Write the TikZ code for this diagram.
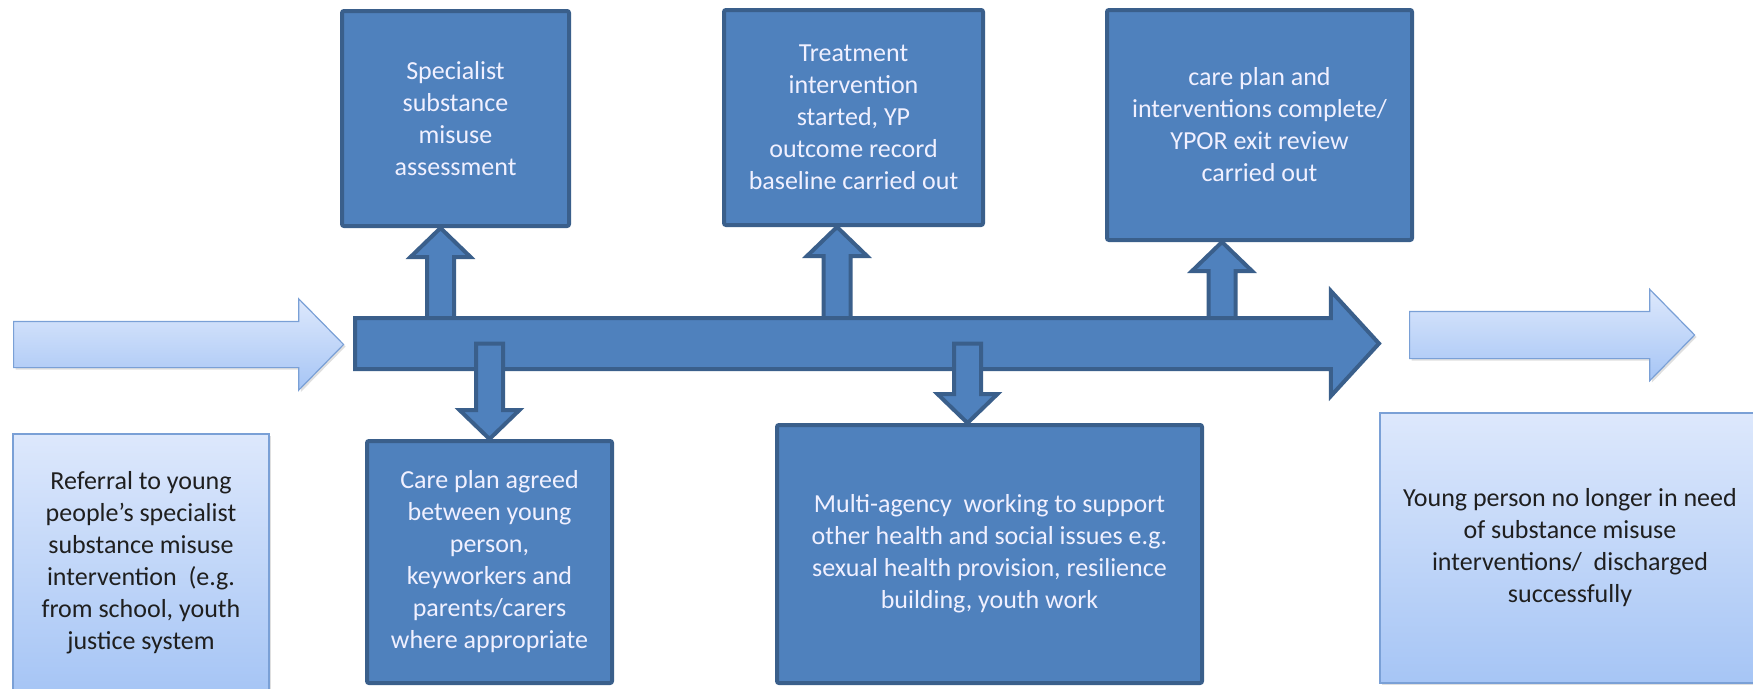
\documentclass[tikz,border=0pt]{standalone}
\usepackage{fontspec}
\setmainfont{Carlito}
\usepackage{tikz}
\usetikzlibrary{%
  calc,%
  shapes.arrows,%
  shadows%
}
\tikzset{>=latex}

\definecolor{boxblue}{RGB}{79,129,189}
\definecolor{boxedge}{RGB}{58,95,139}
\definecolor{paletop}{RGB}{221,232,252}
\definecolor{palebot}{RGB}{166,197,245}
\definecolor{paleedge}{RGB}{122,160,214}

\tikzset{
  darkbox/.style={draw=boxedge,line width=4pt,fill=boxblue,rounded corners=2pt,
    text=white!94!blue,align=center,inner sep=0pt,
    font=\fontsize{26}{32}\selectfont},
  palebox/.style={draw=paleedge,line width=1.2pt,top color=paletop,bottom color=palebot,
    text=black!88,align=center,inner sep=0pt,
    drop shadow={shadow xshift=2pt,shadow yshift=-2pt,opacity=0.25},
    font=\fontsize{26}{32}\selectfont},
  palearrow/.style={single arrow,draw=paleedge,line width=1.2pt,anchor=tail,
    top color=paletop,bottom color=palebot,inner xsep=0pt,
    drop shadow={shadow xshift=2pt,shadow yshift=-2pt,opacity=0.25}},
  blockarr/.style={draw=boxedge,line width=4pt,fill=boxblue,line join=miter}
}

% vertical block arrows: #1 gives the tail height, #2 the tip
\newcommand{\upblock}[2]{%
  \draw[blockarr] let \p1=(#1), \p2=(#2) in
    (\x2-13.5pt,\y1) -- (\x2-13.5pt,\y2-29pt) -- (\x2-30pt,\y2-29pt) -- (\x2,\y2)
    -- (\x2+30pt,\y2-29pt) -- (\x2+13.5pt,\y2-29pt) -- (\x2+13.5pt,\y1) -- cycle;}
\newcommand{\downblock}[2]{%
  \draw[blockarr] let \p1=(#1), \p2=(#2) in
    (\x2-13.5pt,\y1) -- (\x2-13.5pt,\y2+29pt) -- (\x2-30pt,\y2+29pt) -- (\x2,\y2)
    -- (\x2+30pt,\y2+29pt) -- (\x2+13.5pt,\y2+29pt) -- (\x2+13.5pt,\y1) -- cycle;}

\begin{document}
\begin{tikzpicture}[x=1pt,y=-1pt]
  \useasboundingbox (0,0) rectangle (1753,688);

  % boxes above the track
  \node[darkbox,minimum width=227,minimum height=215] (assess) at (455.5,118.5)
    {Specialist\\substance\\misuse\\assessment};
  \node[darkbox,minimum width=259,minimum height=215] (treat) at (853.5,117.5)
    {Treatment\\intervention\\started, YP\\outcome record\\baseline carried out};
  \node[darkbox,minimum width=305,minimum height=230] (exit) at (1259.5,125)
    {care plan and\\interventions complete/\\YPOR exit review\\carried out};

  % boxes below the track
  \node[darkbox,minimum width=245,minimum height=242] (agreed) at (489.5,562)
    {Care plan agreed\\between young\\person,\\keyworkers and\\parents/carers\\where appropriate};
  \node[darkbox,minimum width=425,minimum height=258] (multi) at (989.5,554)
    {Multi-agency \ working to support\\other health and social issues e.g.\\sexual health provision, resilience\\building, youth work};

  \node[palebox,minimum width=256,minimum height=258] (referral) at (141,563)
    {Referral to young\\people's specialist\\substance misuse\\intervention \ (e.g.\\from school, youth\\justice system};
  \node[palebox,minimum width=380,minimum height=270] (discharge) at (1570,548)
    {Young person no longer in need\\of substance misuse\\interventions/ \ discharged\\successfully};

  % entry and exit arrows
  \node[palearrow,minimum height=330,inner ysep=22.5pt,single arrow head extend=22.5pt,
    single arrow tip angle=91] (inarr) at (13,344.5) {};
  \node[palearrow,minimum height=285,inner ysep=23pt,single arrow head extend=22pt,
    single arrow tip angle=91] (outarr) at (1409,335) {};

  \coordinate (mid) at (353,343.5);
  \upblock{mid}{[xshift=-15pt]assess.south}
  \upblock{mid}{[xshift=-16.5pt]treat.south}
  \upblock{mid}{[xshift=-37.5pt]exit.south}

  % the track
  \node[single arrow,anchor=tail,draw=boxedge,line width=4pt,fill=boxblue,inner xsep=0pt,
    inner ysep=23.5pt,minimum height=1024,single arrow head extend=27pt,
    single arrow tip angle=95] (track) at (mid) {};

  \downblock{mid}{agreed.north}
  \downblock{mid}{[xshift=-22pt]multi.north}
\end{tikzpicture}
\end{document}
